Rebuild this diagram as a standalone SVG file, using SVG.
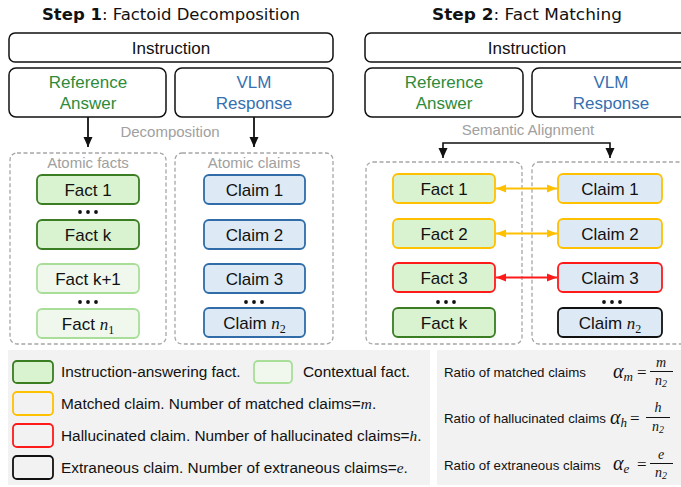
<svg xmlns="http://www.w3.org/2000/svg" width="681" height="487" viewBox="0 0 681 487">
<style>
text{font-family:"Liberation Sans",Arial,sans-serif;fill:#111}
.title{font-family:"DejaVu Sans",sans-serif;font-size:16px}
.box{fill:#fff;stroke:#111;stroke-width:1.5}
.lbl{font-size:17px;text-anchor:middle}
.grn{fill:#2E8B3A}
.blu{fill:#3570B0}
.gray{fill:#A0A0A0;font-size:15px;text-anchor:middle}
.dash{fill:none;stroke:#A6A6A6;stroke-width:1.3;stroke-dasharray:4 2.5}
.fact{fill:#D9F2D0;stroke:#3A7D22;stroke-width:1.8}
.ctx{fill:#F0F8EE;stroke:#A8DE98;stroke-width:1.8}
.claim{fill:#DDEAF6;stroke:#2F6CA8;stroke-width:1.8}
.fy{fill:#D9F2D0;stroke:#FFC000;stroke-width:1.8}
.fr{fill:#D9F2D0;stroke:#FF1A1A;stroke-width:1.8}
.cy{fill:#DDEAF6;stroke:#FFC000;stroke-width:1.8}
.cr{fill:#DDEAF6;stroke:#FF1A1A;stroke-width:1.8}
.ck{fill:#DDEAF6;stroke:#111;stroke-width:1.8}
.m{font-family:"Liberation Serif","DejaVu Serif",serif;font-style:italic}
.mu{font-family:"Liberation Serif","DejaVu Serif",serif}
.leg{font-size:15.4px}
.rat{font-size:13.3px}
.dot{fill:#111}
</style>
<defs>
<marker id="ak" viewBox="0 0 10 10" refX="10" refY="5" markerWidth="10" markerHeight="10" markerUnits="userSpaceOnUse" orient="auto-start-reverse"><path d="M0,0.5 L10,5 L0,9.5 z" fill="#111"/></marker>
<marker id="ay" viewBox="0 0 10 10" refX="10" refY="5" markerWidth="10" markerHeight="10" markerUnits="userSpaceOnUse" orient="auto-start-reverse"><path d="M0,1 L10,5 L0,9 z" fill="#FFC000"/></marker>
<marker id="ar" viewBox="0 0 10 10" refX="10" refY="5" markerWidth="10" markerHeight="10" markerUnits="userSpaceOnUse" orient="auto-start-reverse"><path d="M0,1 L10,5 L0,9 z" fill="#FF1A1A"/></marker>
</defs>

<!-- Titles -->
<text class="title" x="42" y="20" textLength="258" lengthAdjust="spacingAndGlyphs"><tspan font-weight="bold">Step 1</tspan>: Factoid Decomposition</text>
<text class="title" x="432" y="20" textLength="190" lengthAdjust="spacingAndGlyphs"><tspan font-weight="bold">Step 2</tspan>: Fact Matching</text>

<!-- Step 1 -->
<g id="instr1"><rect class="box" x="9" y="33" width="324" height="29" rx="6"/><text class="lbl" x="171" y="54">Instruction</text></g>
<g id="ref1"><rect class="box" x="9" y="68" width="157" height="49" rx="7"/><text class="lbl grn" x="88" y="88">Reference</text><text class="lbl grn" x="88" y="109">Answer</text></g>
<g id="vlm1"><rect class="box" x="175" y="68" width="158" height="49" rx="7"/><text class="lbl blu" x="254" y="88">VLM</text><text class="lbl blu" x="254" y="109">Response</text></g>
<text class="gray" x="170" y="137">Decomposition</text>

<g id="facts1"><rect class="dash" x="10" y="153" width="156" height="191" rx="7"/><text class="gray" x="88" y="168">Atomic facts</text></g>
<g id="claims1"><rect class="dash" x="175" y="153" width="158" height="191" rx="7"/><text class="gray" x="254" y="168">Atomic claims</text></g>

<g id="f1"><rect class="fact" x="37" y="175" width="102" height="29" rx="5"/><text class="lbl" x="88" y="196">Fact 1</text></g>
<g id="fk"><rect class="fact" x="37" y="220" width="102" height="29" rx="5"/><text class="lbl" x="88" y="241">Fact k</text></g>
<g id="fk1"><rect class="ctx" x="37" y="264" width="102" height="29" rx="5"/><text class="lbl" x="88" y="285">Fact k+1</text></g>
<g id="fn1"><rect class="ctx" x="37" y="309" width="102" height="29" rx="5"/><text class="lbl" x="88" y="330">Fact <tspan class="m">n</tspan><tspan class="mu" font-size="12" dy="4">1</tspan></text></g>
<g id="dots1"><circle class="dot" cx="80" cy="212" r="1.9"/><circle class="dot" cx="88" cy="212" r="1.9"/><circle class="dot" cx="96" cy="212" r="1.9"/><circle class="dot" cx="80" cy="302" r="1.9"/><circle class="dot" cx="88" cy="302" r="1.9"/><circle class="dot" cx="96" cy="302" r="1.9"/><circle class="dot" cx="246" cy="302" r="1.9"/><circle class="dot" cx="254" cy="302" r="1.9"/><circle class="dot" cx="262" cy="302" r="1.9"/></g>
<g id="c1"><rect class="claim" x="204" y="175" width="101" height="29" rx="5"/><text class="lbl" x="254.5" y="196">Claim 1</text></g>
<g id="c2"><rect class="claim" x="204" y="220" width="101" height="29" rx="5"/><text class="lbl" x="254.5" y="241">Claim 2</text></g>
<g id="c3"><rect class="claim" x="204" y="264" width="101" height="29" rx="5"/><text class="lbl" x="254.5" y="285">Claim 3</text></g>
<g id="cn2"><rect class="claim" x="204" y="308" width="101" height="29" rx="5"/><text class="lbl" x="254.5" y="329">Claim <tspan class="m">n</tspan><tspan class="mu" font-size="12" dy="4">2</tspan></text></g>

<!-- Step 2 -->
<g id="instr2"><rect class="box" x="365" y="33" width="330" height="29" rx="6"/><text class="lbl" x="527" y="54">Instruction</text></g>
<g id="ref2"><rect class="box" x="365" y="68" width="158" height="49" rx="7"/><text class="lbl grn" x="444" y="88">Reference</text><text class="lbl grn" x="444" y="109">Answer</text></g>
<g id="vlm2"><rect class="box" x="532" y="68" width="160" height="49" rx="7"/><text class="lbl blu" x="611" y="88">VLM</text><text class="lbl blu" x="611" y="109">Response</text></g>
<text class="gray" x="528" y="135">Semantic Alignment</text>

<g id="facts2"><rect class="dash" x="366" y="162" width="156" height="182" rx="7"/></g>
<g id="claims2"><rect class="dash" x="532" y="162" width="160" height="182" rx="7"/></g>

<g id="sf1"><rect class="fy" x="393" y="174" width="102" height="29" rx="5"/><text class="lbl" x="444" y="195">Fact 1</text></g>
<g id="sf2"><rect class="fy" x="393" y="219" width="102" height="29" rx="5"/><text class="lbl" x="444" y="240">Fact 2</text></g>
<g id="sf3"><rect class="fr" x="393" y="263" width="102" height="29" rx="5"/><text class="lbl" x="444" y="284">Fact 3</text></g>
<g id="sfk"><rect class="fact" x="393" y="308" width="102" height="29" rx="5"/><text class="lbl" x="444" y="329">Fact k</text></g>
<g id="sc1"><rect class="cy" x="558" y="174" width="104" height="29" rx="5"/><text class="lbl" x="610" y="195">Claim 1</text></g>
<g id="sc2"><rect class="cy" x="558" y="219" width="104" height="29" rx="5"/><text class="lbl" x="610" y="240">Claim 2</text></g>
<g id="sc3"><rect class="cr" x="558" y="263" width="104" height="29" rx="5"/><text class="lbl" x="610" y="284">Claim 3</text></g>
<g id="scn2"><rect class="ck" x="558" y="308" width="104" height="29" rx="5"/><text class="lbl" x="610" y="329">Claim <tspan class="m">n</tspan><tspan class="mu" font-size="12" dy="4">2</tspan></text></g>
<g id="dots2"><circle class="dot" cx="438" cy="302" r="1.9"/><circle class="dot" cx="446" cy="302" r="1.9"/><circle class="dot" cx="454" cy="302" r="1.9"/><circle class="dot" cx="604" cy="302" r="1.9"/><circle class="dot" cx="612" cy="302" r="1.9"/><circle class="dot" cx="620" cy="302" r="1.9"/></g>

<!-- Connectors -->
<g id="connectors" fill="none" stroke-width="1.8">
<line x1="88" y1="117" x2="88" y2="147" stroke="#111" marker-end="url(#ak)"/>
<line x1="254" y1="117" x2="254" y2="147" stroke="#111" marker-end="url(#ak)"/>
<polyline points="443,158 443,143 610,143 610,158" stroke="#111" stroke-width="1.6" marker-start="url(#ak)" marker-end="url(#ak)"/>
<line x1="496" y1="188.5" x2="557" y2="188.5" stroke="#FFC000" stroke-width="2" marker-start="url(#ay)" marker-end="url(#ay)"/>
<line x1="496" y1="233.5" x2="557" y2="233.5" stroke="#FFC000" stroke-width="2" marker-start="url(#ay)" marker-end="url(#ay)"/>
<line x1="496" y1="277.5" x2="557" y2="277.5" stroke="#FF1A1A" stroke-width="2" marker-start="url(#ar)" marker-end="url(#ar)"/>
</g>

<!-- Legend -->
<g id="legend">
<rect x="8" y="350" width="422" height="135" fill="#F2F2F2"/>
<rect class="fact" x="13" y="361" width="40" height="22" rx="4"/>
<text class="leg" x="61" y="377">Instruction-answering fact.</text>
<rect class="ctx" x="254" y="361" width="38" height="22" rx="4"/>
<text class="leg" x="303" y="377">Contextual fact.</text>
<rect x="13" y="392" width="40" height="23" rx="4" fill="#F2F2F2" stroke="#FFC000" stroke-width="1.8"/>
<text class="leg" x="61" y="409">Matched claim. Number of matched claims=<tspan class="m">m</tspan>.</text>
<rect x="13" y="424" width="40" height="23" rx="4" fill="#F2F2F2" stroke="#FF1A1A" stroke-width="1.8"/>
<text class="leg" x="61" y="441">Hallucinated claim. Number of hallucinated claims=<tspan class="m">h</tspan>.</text>
<rect x="13" y="456" width="40" height="23" rx="4" fill="#F2F2F2" stroke="#111" stroke-width="1.8"/>
<text class="leg" x="61" y="473">Extraneous claim. Number of extraneous claims=<tspan class="m">e</tspan>.</text>
</g>
<g id="ratios">
<rect x="437" y="350" width="244" height="135" fill="#F2F2F2"/>
<text class="rat" x="444" y="377">Ratio of matched claims</text>
<text x="613" y="378" class="m" font-size="20">α<tspan font-size="13" dy="3">m</tspan></text>
<text x="637" y="378" class="mu" font-size="17">=</text>
<text x="661" y="367" class="m" font-size="14" text-anchor="middle">m</text>
<line x1="650" y1="371.5" x2="673" y2="371.5" stroke="#111" stroke-width="1"/>
<text x="661" y="385" class="m" font-size="14" text-anchor="middle">n<tspan class="mu" font-size="10" dy="2">2</tspan></text>

<text class="rat" x="444" y="423">Ratio of hallucinated claims</text>
<text x="610" y="424" class="m" font-size="20">α<tspan font-size="13" dy="3">h</tspan></text>
<text x="630" y="424" class="mu" font-size="17">=</text>
<text x="658" y="412" class="m" font-size="14" text-anchor="middle">h</text>
<line x1="646" y1="417.5" x2="670" y2="417.5" stroke="#111" stroke-width="1"/>
<text x="658" y="431" class="m" font-size="14" text-anchor="middle">n<tspan class="mu" font-size="10" dy="2">2</tspan></text>

<text class="rat" x="444" y="470">Ratio of extraneous claims</text>
<text x="613" y="470" class="m" font-size="20">α<tspan font-size="13" dy="3">e</tspan></text>
<text x="637" y="470" class="mu" font-size="17">=</text>
<text x="661" y="459" class="m" font-size="14" text-anchor="middle">e</text>
<line x1="650" y1="463.5" x2="673" y2="463.5" stroke="#111" stroke-width="1"/>
<text x="661" y="477" class="m" font-size="14" text-anchor="middle">n<tspan class="mu" font-size="10" dy="2">2</tspan></text>
</g>
</svg>
